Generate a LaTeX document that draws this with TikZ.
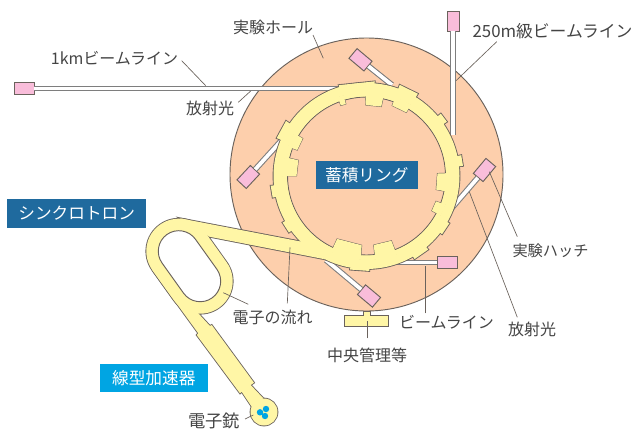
\documentclass[tikz,border=0pt]{standalone}
\usepackage{fontspec}
\setmainfont{Noto Sans CJK JP}
\usetikzlibrary{calc}
\definecolor{hallpeach}{HTML}{FDCFAC}
\definecolor{ringyellow}{HTML}{FFF6A6}
\definecolor{hatchpink}{HTML}{F9BDDA}
\definecolor{edgegray}{HTML}{6A625C}
\definecolor{pipegray}{HTML}{7E7E7E}
\definecolor{textgray}{HTML}{444444}
\definecolor{ringblue}{HTML}{1F6A9E}
\definecolor{linacblue}{HTML}{00A5E3}
\tikzset{
  hatch/.style={draw=edgegray,fill=hatchpink,line width=0.7pt,minimum width=14.7pt,minimum height=9.5pt,inner sep=0pt},
  pipe/.style={draw=pipegray,line width=0.8pt,double=white,double distance=2.8pt},
  pipeshade/.style={draw=pipegray!80,line width=1.4pt},
  leader/.style={draw=edgegray,line width=0.5pt},
  label/.style={text=textgray,font=\fontsize{12}{12}\selectfont,inner sep=0pt},
  banner/.style={text=white,font=\fontsize{12.5}{12.5}\selectfont,inner sep=0pt,minimum height=21pt},
  partedge/.style={draw=edgegray,line width=1.3pt},
  partbody/.style={fill=ringyellow},
}
\begin{document}
\begin{tikzpicture}[x=0.75pt,y=-0.75pt]
  \useasboundingbox (0,0) rectangle (634,428);
  % experiment hall
  \draw[draw=edgegray,fill=hallpeach,line width=0.7pt] (366.5,174.5) circle[radius=136.5];
  % hutches and beam lines
  \node[hatch] (hutchfar) at (24.2,88.5) {};
  \node[hatch,minimum width=9.5pt,minimum height=15pt] (hutchtop) at (453.3,21) {};
  \node[hatch,rotate=-40] (hutchnorth) at (360.5,59.8) {};
  \node[hatch,rotate=47] (hutchwest) at (248.3,177) {};
  \node[hatch,rotate=50] (hutcheast) at (484.5,170) {};
  \node[hatch,rotate=-40] (hutchsouth) at (369,296) {};
  \node[hatch] (hutchbeam) at (447.7,262.5) {};
  \coordinate (farend) at (345,88.5);
  \coordinate (topend) at (453.3,135);
  \coordinate (northend) at (392,85);
  \coordinate (westend) at (281,141);
  \coordinate (eastend) at (450,210);
  \coordinate (southend) at (326,260);
  \coordinate (beamend) at (385,262.5);
  \draw[pipeshade,transform canvas={yshift=-1.5pt}] (hutchfar) -- (farend);
  \draw[pipeshade,transform canvas={xshift=-1.5pt}] (hutchtop) -- (topend);
  \draw[pipeshade,transform canvas={yshift=-1.5pt}] (hutchbeam) -- (beamend);
  \draw[pipe] (hutchfar) -- (farend);
  \draw[pipe] (hutchtop) -- (topend);
  \draw[pipe] (hutchnorth) -- (northend);
  \draw[pipe] (hutchwest) -- (westend);
  \draw[pipe] (hutcheast) -- (eastend);
  \draw[pipe] (hutchsouth) -- (southend);
  \draw[pipe] (hutchbeam) -- (beamend);
  % ring, transport line, synchrotron and linac: outlines first, then fill
  \foreach \part in {partedge,partbody} {
    \path[\part] (366.5,176) circle[radius=93];
    \foreach \a/\b/\r in {202.9/214.4/97.5,167/174.2/96.3,143.9/151/96,88.3/100/95,50/60/96,
        29.7/37.6/95.4,-12.4/-6/97,-40/-34/97,-70/-58/97,-107/-85/95}
      \path[\part,shift={(366.5,176)}] (\a:88) -- (\a:\r) -- (\b:\r) -- (\b:88) -- cycle;
    \path[\part] (180,218.3) -- (301.7,241.7) -- (325,259.3) -- (209.3,236.7) -- cycle;
    \path[\part] ($(178.8,251.2)+(144.5:32.5)$) arc[start angle=144.5,end angle=324.5,radius=32.5]
      -- ($(200.2,281.2)+(-35.5:32.5)$) arc[start angle=-35.5,end angle=144.5,radius=32.5] -- cycle;
    \path[\part] (152.3,270) -- (198.3,333.3) -- (196.7,335) -- (240,393.3) -- (241.7,391.7)
      -- (251.7,406.7) -- (263.3,398.3) -- (250.7,385) -- (254,382.7) -- (211.7,325)
      -- (210,326) -- (198,313) -- cycle;
    \path[\part] (264,412) circle[radius=13.5];
    \path[\part] (364,312.3) rectangle (370,317);
    \path[\part] (345.3,315.7) rectangle (387.7,326);
  }
  % ring inside
  \draw[draw=edgegray,fill=hallpeach,line width=0.7pt] (366.5,176) circle[radius=79];
  \foreach \part in {partedge,partbody} {
    \foreach \a/\b/\r in {-110/-106/75,-90.6/-78/71,-70/-58/75,-2/11/71,20/28/74,
        69/84/69.4,94/115/69.4,180/193/70,200.5/210.5/74}
      \path[\part,line width=0.7pt,shift={(366.5,176)}] (\a:83) -- (\a:\r) -- (\b:\r) -- (\b:83) -- cycle;
  }
  \fill[ringyellow,even odd rule] (366.5,176) circle[radius=79.6] circle[radius=84];
  % synchrotron inside
  \draw[draw=edgegray,fill=white,line width=0.7pt] ($(178.8,251.2)+(144.5:20.5)$) arc[start angle=144.5,end angle=324.5,radius=20.5]
    -- ($(200.2,281.2)+(-35.5:20.5)$) arc[start angle=-35.5,end angle=144.5,radius=20.5] -- cycle;
  % electron gun
  \fill[linacblue] (260,412.3) circle[radius=3.2] (266,409) circle[radius=3.2] (265,416) circle[radius=3.2];
  % banners
  \node[banner,fill=ringblue,minimum width=76.3pt] (storagering) at (366.8,175) {蓄積リング};
  \node[banner,fill=ringblue,minimum width=104.5pt,minimum height=22pt] (synchrotron) at (76.7,213.5) {シンクロトロン};
  \node[banner,fill=linacblue,minimum width=81pt] (linac) at (153.8,378) {線型加速器};
  % labels
  \node[label] (hall) at (273,27) {実験ホール};
  \node[label,font=\fontsize{12.6}{12.6}\selectfont] (line250) at (552.5,31) {250m級ビームライン};
  \node[label] (line1km) at (114.5,58) {1kmビームライン};
  \node[label] (lightwest) at (210,108) {放射光};
  \node[label] (lighteast) at (532,329) {放射光};
  \node[label,font=\fontsize{11.4}{11.4}\selectfont] (hutchtext) at (550.5,251) {実験ハッチ};
  \node[label] (beamline) at (446.5,322.5) {ビームライン};
  \node[label] (control) at (367,355) {中央管理等};
  \node[label] (flow) at (272.5,317) {電子の流れ};
  \node[label,font=\fontsize{13}{13}\selectfont] (gun) at (214,421) {電子銃};
  % leaders
  \coordinate (a1) at (313,35);     \coordinate (b1) at (323.3,58.3);
  \coordinate (a2) at (496.7,41.7); \coordinate (b2) at (456,80.7);
  \coordinate (a3) at (181.7,60.7); \coordinate (b3) at (205.7,85.7);
  \coordinate (a4) at (238.3,102.3);\coordinate (b4) at (250.7,91);
  \coordinate (a5) at (517.3,317.3);\coordinate (b5) at (469.3,191.7);
  \coordinate (a6) at (517.3,236.7);\coordinate (b6) at (489.3,171.7);
  \coordinate (a7) at (425.7,313.3);\coordinate (b7) at (425.7,265.7);
  \coordinate (a8) at (367.3,338.3);\coordinate (b8) at (367.3,320.7);
  \coordinate (a9) at (287.3,303.3);\coordinate (b9) at (290,247.3);
  \coordinate (a10) at (248.3,304.3);\coordinate (b10) at (223.3,292.7);
  \coordinate (a11) at (245,419);   \coordinate (b11) at (253.3,415);
  \foreach \i in {1,...,11}
    \draw[leader] (a\i) -- (b\i);
\end{tikzpicture}
\end{document}
